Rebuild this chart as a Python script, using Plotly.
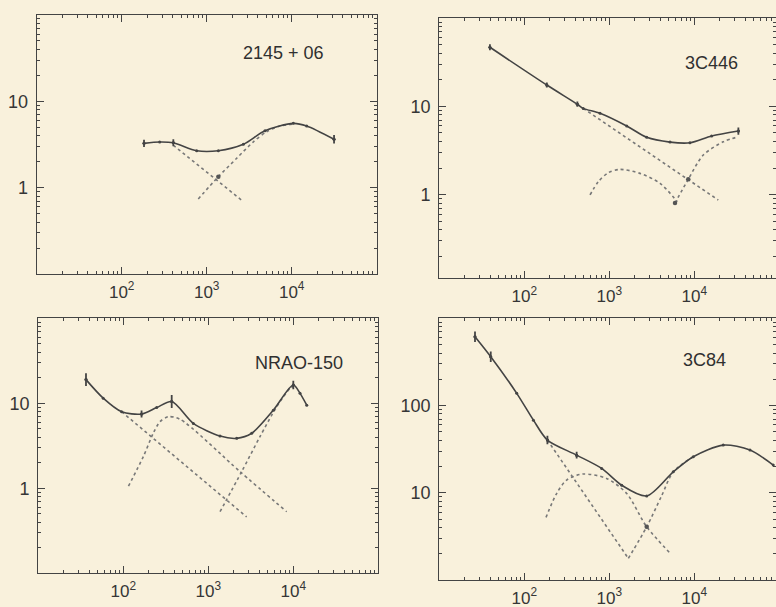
import plotly.graph_objects as go

# ---------------- data ----------------
# Panel 1 : 2145 + 06
p1_curve_x = [183, 280, 405, 762, 1371, 2700, 4850, 10450, 15000, 31500]
p1_curve_y = [3.26, 3.38, 3.31, 2.68, 2.68, 3.18, 4.56, 5.56, 5.18, 3.63]
p1_err_x = [183, 405, 31500]
p1_err_y = [3.26, 3.31, 3.63]
p1_err_f = [1.10, 1.10, 1.12]
p1_comp_a_x = [405, 2700]
p1_comp_a_y = [3.1, 0.69]
p1_comp_b_x = [796, 1371, 2254, 3540, 5080, 7280, 10450]
p1_comp_b_y = [0.74, 1.34, 2.19, 3.40, 4.45, 5.18, 5.46]
p1_cross_x = [1371]
p1_cross_y = [1.34]

# Panel 2 : 3C446
p2_curve_x = [39.4, 184, 421, 494, 778, 1603, 2754, 5176, 8890, 16000, 33000]
p2_curve_y = [46.9, 17.5, 10.6, 9.5, 8.36, 6.0, 4.46, 3.94, 3.87, 4.62, 5.26]
p2_err_x = [39.4, 184, 421, 33000]
p2_err_y = [46.9, 17.5, 10.6, 5.26]
p2_err_f = [1.08, 1.07, 1.07, 1.10]
p2_comp_a_x = [494, 19140]
p2_comp_a_y = [9.5, 0.867]
p2_comp_b_x = [593, 743, 973, 1337, 2296, 3954, 6310]
p2_comp_b_y = [0.99, 1.40, 1.77, 1.93, 1.74, 1.34, 0.83]
p2_comp_c_x = [5930, 8490, 12760, 21930, 33000]
p2_comp_c_y = [0.80, 1.49, 2.81, 3.97, 4.53]
p2_cross_x = [5930, 8490]
p2_cross_y = [0.80, 1.49]

# Panel 3 : NRAO-150
p3_curve_x = [36.4, 58, 95.6, 164, 247, 371, 667, 1374, 2160, 3240, 5820, 10000, 12000, 14400]
p3_curve_y = [19.0, 11.5, 7.96, 7.48, 8.9, 10.5, 5.8, 4.12, 3.87, 4.44, 8.3, 16.4, 13.1, 9.5]
p3_err_x = [36.4, 164, 371, 10000]
p3_err_y = [19.0, 7.48, 10.5, 16.4]
p3_err_f = [1.19, 1.10, 1.19, 1.12]
p3_comp_a_x = [95.6, 2830]
p3_comp_a_y = [7.96, 0.46]
p3_comp_b_x = [115, 172, 225, 270, 338, 464, 2360, 8360]
p3_comp_b_y = [1.06, 2.36, 4.44, 6.08, 6.95, 6.5, 1.57, 0.53]
p3_comp_c_x = [1374, 2470, 4055, 6370, 9140, 10000]
p3_comp_c_y = [0.53, 1.57, 4.05, 9.1, 15.0, 15.8]

# Panel 4 : 3C84
p4_curve_x = [26.3, 40.3, 81.5, 128, 187, 413, 814, 1400, 2754, 5660, 9730, 21900, 45200, 84900]
p4_curve_y = [615, 363, 138, 68, 40.2, 27, 19, 12.2, 9.2, 17.4, 25.9, 35.2, 30.9, 20.8]
p4_err_x = [26.3, 40.3, 187, 413]
p4_err_y = [615, 363, 40.2, 27]
p4_err_f = [1.15, 1.15, 1.12, 1.09]
p4_comp_a_x = [187, 1675]
p4_comp_a_y = [40.2, 1.77]
p4_comp_b_x = [1675, 2754, 4100, 5660, 9730]
p4_comp_b_y = [1.77, 4.07, 9.1, 17.4, 25.9]
p4_comp_c_x = [180, 240, 315, 486, 931, 1603, 2754, 5320]
p4_comp_c_y = [5.22, 9.8, 14.0, 16.4, 14.6, 9.8, 4.07, 1.98]
p4_cross_x = [2754]
p4_cross_y = [4.07]

labels = ["2145 + 06", "3C446", "NRAO-150", "3C84"]
x_tick_vals = [100, 1000, 10000]
x_tick_text = ["10<sup>2</sup>", "10<sup>3</sup>", "10<sup>4</sup>"]
y_tick_sets = [([1, 10], ["1", "10"]), ([1, 10], ["1", "10"]),
               ([1, 10], ["1", "10"]), ([10, 100], ["10", "100"])]

# ---------------- styling / layout ----------------
W, H = 776, 607
BG = "#f9f1dc"
INK = "#444444"
DOT = "#787878"
FONT = "Liberation Sans, Arial, sans-serif"


def dx(a, b):
    return [a / W, min(b / W, 1.0)]


def dy(top, bottom):
    return [1 - bottom / H, 1 - top / H]


panels = [
    dict(xd=dx(36.7, 376.7), yd=dy(15, 274), xr=[1, 5], yr=[-1, 2],
         lab=(283.5, 53)),
    dict(xd=dx(439.3, 776), yd=dy(18.3, 278.3), xr=[1, 1 + (776 - 439.3) / 85], yr=[-0.95, 2],
         lab=(711.5, 62.5)),
    dict(xd=dx(38.3, 378.3), yd=dy(318.3, 573.3), xr=[1, 5], yr=[-1, 2],
         lab=(298.5, 363)),
    dict(xd=dx(439.3, 776), yd=dy(318.3, 580), xr=[1, 1 + (776 - 439.3) / 85], yr=[0, 3],
         lab=(704.5, 360)),
]

data = [
    (p1_curve_x, p1_curve_y, p1_err_x, p1_err_y, p1_err_f,
     [(p1_comp_a_x, p1_comp_a_y), (p1_comp_b_x, p1_comp_b_y)], (p1_cross_x, p1_cross_y)),
    (p2_curve_x, p2_curve_y, p2_err_x, p2_err_y, p2_err_f,
     [(p2_comp_a_x, p2_comp_a_y), (p2_comp_b_x, p2_comp_b_y), (p2_comp_c_x, p2_comp_c_y)],
     (p2_cross_x, p2_cross_y)),
    (p3_curve_x, p3_curve_y, p3_err_x, p3_err_y, p3_err_f,
     [(p3_comp_a_x, p3_comp_a_y), (p3_comp_b_x, p3_comp_b_y), (p3_comp_c_x, p3_comp_c_y)],
     ([], [])),
    (p4_curve_x, p4_curve_y, p4_err_x, p4_err_y, p4_err_f,
     [(p4_comp_a_x, p4_comp_a_y), (p4_comp_b_x, p4_comp_b_y), (p4_comp_c_x, p4_comp_c_y)],
     (p4_cross_x, p4_cross_y)),
]


def minor_vals(lo, hi):
    out = []
    for e in range(lo, hi + 1):
        for m in range(2, 10):
            out.append(m * 10 ** e)
    return out


fig = go.Figure()
layout = dict(width=W, height=H, margin=dict(l=0, r=0, t=0, b=0),
              paper_bgcolor=BG, plot_bgcolor=BG, showlegend=False,
              font=dict(family=FONT, color=INK))
annotations = []

for i, (pn, dat) in enumerate(zip(panels, data)):
    n = i + 1
    xa = "x" if n == 1 else f"x{n}"
    ya = "y" if n == 1 else f"y{n}"
    cx, cy, ex, ey, ef, comps, cross = dat
    # dotted components
    for (kx, ky) in comps:
        fig.add_trace(go.Scatter(x=kx, y=ky, mode="lines", xaxis=xa, yaxis=ya,
                                 line=dict(color=DOT, width=1.6, dash="dot", shape="spline",
                                           smoothing=0.8),
                                 hoverinfo="skip"))
    # solid curve
    fig.add_trace(go.Scatter(x=cx, y=cy, mode="lines+markers", xaxis=xa, yaxis=ya,
                             line=dict(color=INK, width=1.6, shape="spline", smoothing=0.8),
                             marker=dict(size=3, color=INK)))
    # error bars
    plus = [y * (f - 1) for y, f in zip(ey, ef)]
    minus = [y * (1 - 1 / f) for y, f in zip(ey, ef)]
    fig.add_trace(go.Scatter(x=ex, y=ey, mode="markers", xaxis=xa, yaxis=ya,
                             marker=dict(size=3, color=INK),
                             error_y=dict(type="data", symmetric=False, array=plus,
                                          arrayminus=minus, thickness=1.8, width=0,
                                          color=INK)))
    if cross[0]:
        fig.add_trace(go.Scatter(x=cross[0], y=cross[1], mode="markers", xaxis=xa, yaxis=ya,
                                 marker=dict(size=4.5, color="#555555")))

    xr, yr = pn["xr"], pn["yr"]
    common = dict(type="log", showline=True, linecolor=INK, linewidth=1.3,
                  mirror="ticks", ticks="inside", ticklen=7, tickwidth=1.2,
                  tickcolor=INK, showgrid=False, zeroline=False,
                  minor=dict(ticks="inside", ticklen=3, tickwidth=1, tickcolor=INK,
                             showgrid=False))
    xaxis = dict(common, domain=pn["xd"], range=xr, anchor=ya,
                 tickmode="array", tickvals=x_tick_vals, ticktext=x_tick_text,
                 ticklabelstandoff=2,
                 tickfont=dict(family=FONT, size=17, color="#363636"))
    xaxis["minor"] = dict(common["minor"], tickvals=minor_vals(int(xr[0]), 4))
    yv, yt = y_tick_sets[i]
    yaxis = dict(common, domain=pn["yd"], range=yr, anchor=xa,
                 tickmode="array", tickvals=yv, ticktext=yt, ticklabelstandoff=4,
                 tickfont=dict(family=FONT, size=18, color="#363636"))
    yaxis["minor"] = dict(common["minor"], tickvals=minor_vals(int(yr[0]) - 1, int(yr[1])))
    layout["xaxis" if n == 1 else f"xaxis{n}"] = xaxis
    layout["yaxis" if n == 1 else f"yaxis{n}"] = yaxis

    lx, ly = pn["lab"]
    annotations.append(dict(text=labels[i], x=lx / W, y=1 - ly / H, xref="paper", yref="paper",
                            xanchor="center", yanchor="middle", showarrow=False,
                            font=dict(family=FONT, size=18, color="#303030")))

layout["annotations"] = annotations
fig.update_layout(**layout)
fig.write_html("out.html")
